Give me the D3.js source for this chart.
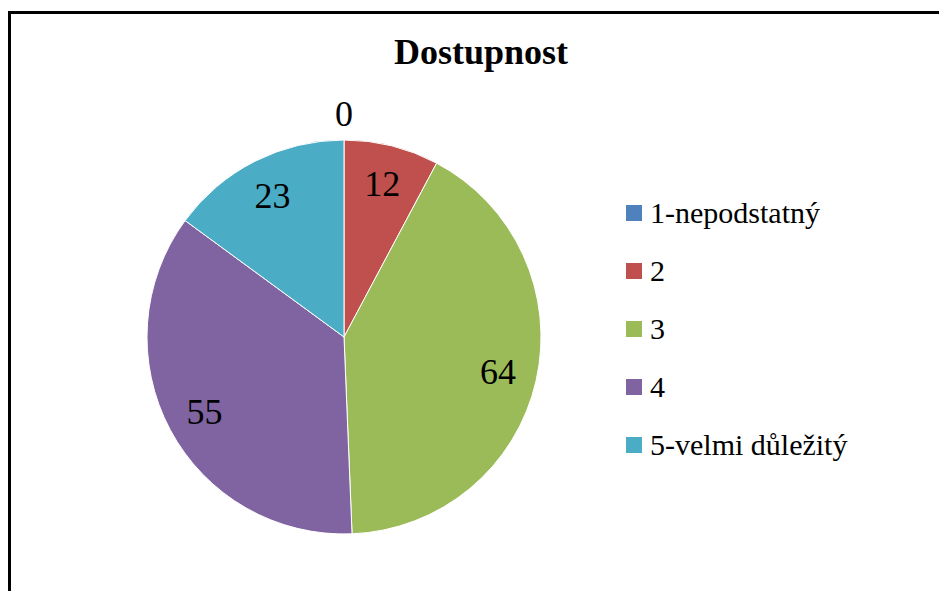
<!DOCTYPE html>
<html>
<head>
<meta charset="utf-8">
<script src="https://cdn.jsdelivr.net/npm/d3@7"></script>
<style>
  body { margin: 0; background: #fff; }
  svg { display: block; }
  svg text { font-family: "Liberation Serif", "DejaVu Serif", serif; }
</style>
</head>
<body>
<svg width="939" height="591"></svg>
<script>
// Dados do gráfico
const categorias = ["1-nepodstatný", "2", "3", "4", "5-velmi důležitý"];
const valores = [0, 12, 64, 55, 23];
const cores = ["#4F81BD", "#C0504D", "#9BBB59", "#8064A2", "#4BACC6"];
const titulo = "Dostupnost";

const width = 939;
const height = 591;
const cx = 344, cy = 337, raio = 197;

const svg = d3.select("svg");

// Borda do gráfico
svg.append("path")
    .attr("d", `M9.5,${height}V12.5H${width}`)
    .attr("fill", "none")
    .attr("stroke", "#000")
    .attr("stroke-width", 3);

// Título
svg.append("text")
    .attr("x", 481)
    .attr("y", 64)
    .attr("text-anchor", "middle")
    .attr("font-weight", "bold")
    .attr("font-size", 36)
    .text(titulo);

const dados = categorias.map((c, i) => ({ cat: c, val: valores[i], cor: cores[i] }));

const pie = d3.pie().sort(null).value(d => d.val);
const arc = d3.arc().innerRadius(0).outerRadius(raio);
const arcos = pie(dados);

const g = svg.append("g").attr("transform", `translate(${cx},${cy})`);

g.selectAll("path")
    .data(arcos)
    .enter().append("path")
    .attr("d", arc)
    .attr("fill", d => d.data.cor)
    .attr("stroke", "#fff")
    .attr("stroke-width", 1);

// Rótulos: dentro da fatia, ou fora quando o valor é zero
const arcRotulo = d3.arc().innerRadius(158).outerRadius(158);
const arcFora = d3.arc().innerRadius(223).outerRadius(223);

g.selectAll("text")
    .data(arcos)
    .enter().append("text")
    .attr("transform", d => `translate(${(d.data.val === 0 ? arcFora : arcRotulo).centroid(d)})`)
    .attr("text-anchor", "middle")
    .attr("dy", "0.34em")
    .attr("font-size", 36)
    .text(d => d.data.val);

// Legenda
const legenda = svg.append("g").attr("transform", "translate(626,213)");
const y = d3.scalePoint().domain(categorias).range([0, 232]);

const item = legenda.selectAll("g")
    .data(dados)
    .enter().append("g")
    .attr("transform", d => `translate(0,${y(d.cat)})`);

item.append("rect")
    .attr("x", 0)
    .attr("y", -8)
    .attr("width", 16)
    .attr("height", 16)
    .attr("fill", d => d.cor);

item.append("text")
    .attr("x", 24)
    .attr("dy", "0.33em")
    .attr("font-size", 30)
    .text(d => d.cat);
</script>
</body>
</html>
